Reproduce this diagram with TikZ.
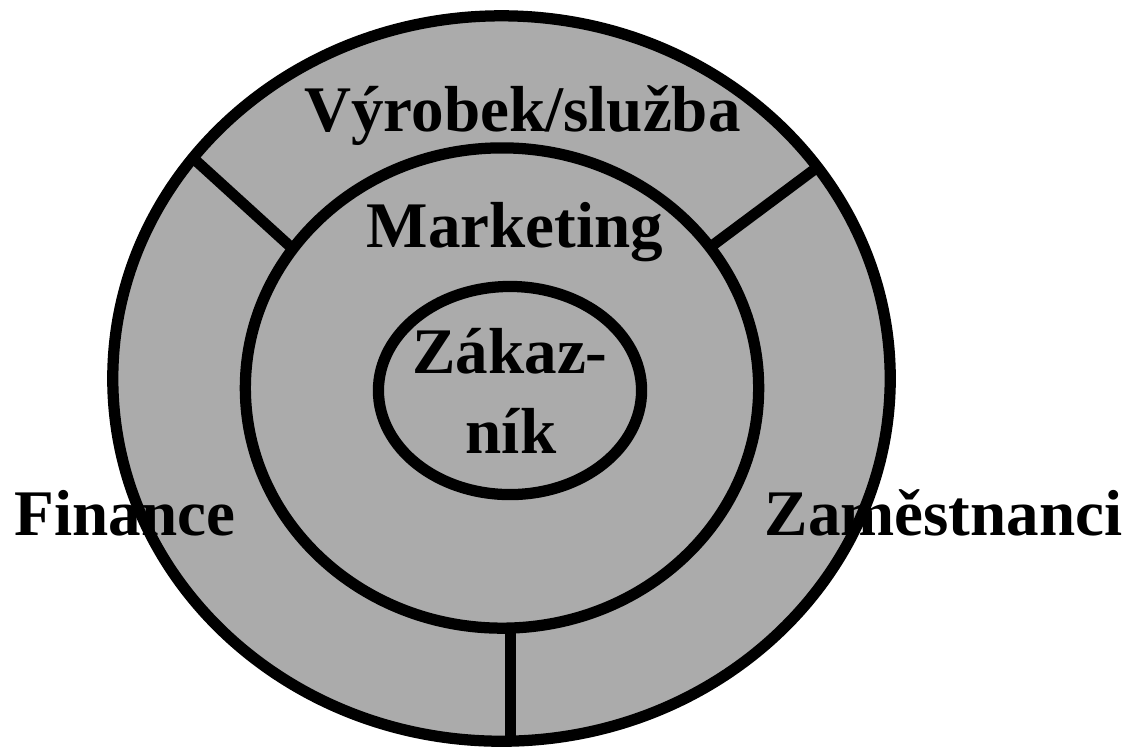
\documentclass[tikz,border=0pt]{standalone}
\usepackage{fontspec}
\setmainfont{Liberation Serif}
\usetikzlibrary{shapes.geometric}
\definecolor{ringgray}{RGB}{171,171,171}
\tikzset{
  ring/.style={ellipse, draw=black, line width=3.2pt, inner sep=0pt, fill=ringgray},
  divider/.style={draw=black, line width=3.1pt},
  lbl/.style={anchor=base, inner sep=0pt, font=\bfseries\fontsize{18.5pt}{22.8pt}\selectfont}
}
\begin{document}
\begin{tikzpicture}[x=0.01cm, y=-0.01cm]
\useasboundingbox (0,0) rectangle (1131,747);
% rings
\node[ring, minimum width=7.77cm, minimum height=7.25cm] (outer) at (501.5,378.5) {};
% dividers
\coordinate (d1a) at (193,158);
\coordinate (d1b) at (293,249);
\coordinate (d2a) at (819,166);
\coordinate (d2b) at (709,248);
\coordinate (d3a) at (510.5,628);
\coordinate (d3b) at (510.5,742);
\draw[divider] (d1a) -- (d1b);
\draw[divider] (d2a) -- (d2b);
\draw[divider] (d3a) -- (d3b);
\node[ring, minimum width=5.13cm, minimum height=4.80cm] (middle) at (502,388) {};
\node[ring, minimum width=2.63cm, minimum height=2.08cm] (inner) at (510,390.5) {};
% labels
\node[lbl] (vyrobek) at (522.5,131) {Výrobek/služba};
\node[lbl] (marketing) at (515,247) {Marketing};
\node[lbl] (zak1) at (510,373) {Zákaz-};
\node[lbl] (zak2) at (511,453) {ník};
\node[lbl] (finance) at (125,535) {Finance};
\node[lbl] (zam) at (943.5,535) {Zaměstnanci};
\end{tikzpicture}
\end{document}
